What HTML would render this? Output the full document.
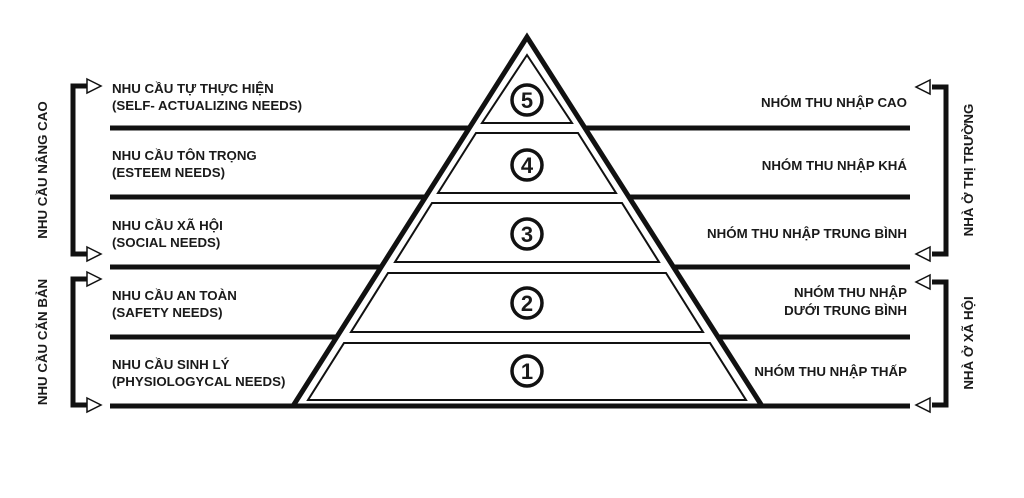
<!DOCTYPE html>
<html><head><meta charset="utf-8"><style>
html,body{margin:0;padding:0;background:#fff;width:1024px;height:498px;overflow:hidden}
svg text{font-family:"Liberation Sans",Arial,sans-serif;font-weight:bold;font-size:13.3px;fill:#1a1a1a}
</style></head><body>
<svg width="1024" height="498" viewBox="0 0 1024 498">
<rect width="1024" height="498" fill="#fff"/>
<g stroke="#111" stroke-width="5" fill="none">
<line x1="110" y1="128" x2="470" y2="128"/>
<line x1="110" y1="197" x2="426" y2="197"/>
<line x1="110" y1="267" x2="382" y2="267"/>
<line x1="110" y1="337" x2="337" y2="337"/>
<line x1="110" y1="406" x2="910" y2="406"/>
<line x1="584" y1="128" x2="910" y2="128"/>
<line x1="628" y1="197" x2="910" y2="197"/>
<line x1="672" y1="267" x2="910" y2="267"/>
<line x1="717" y1="337" x2="910" y2="337"/>
<polygon points="527,37 293,406 762,406" stroke-linejoin="miter"/>
</g>
<g stroke="#111" stroke-width="2" fill="none">
<polygon points="527,55 482,123 572,123"/>
<polygon points="476,133 578,133 616,193 438,193"/>
<polygon points="432,203 622,203 659,262 395,262"/>
<polygon points="388,273 666,273 703,332 351,332"/>
<polygon points="344,343 710,343 746,400 308,400"/>
</g>
<g stroke="#111" stroke-width="3.5" fill="#fff">
<circle cx="527" cy="100" r="15"/><circle cx="527" cy="165" r="15"/>
<circle cx="527" cy="234" r="15"/><circle cx="527" cy="303" r="15"/>
<circle cx="527" cy="371" r="15"/>
</g>
<g text-anchor="middle">
<text x="527" y="108" style="font-size:22px">5</text>
<text x="527" y="173" style="font-size:22px">4</text>
<text x="527" y="242" style="font-size:22px">3</text>
<text x="527" y="311" style="font-size:22px">2</text>
<text x="527" y="379" style="font-size:22px">1</text>
</g>
<g stroke="#111" stroke-width="5" fill="none">
<polyline points="88,86 73,86 73,254 88,254"/>
<polyline points="88,279 73,279 73,405 88,405"/>
<polyline points="932,87 946,87 946,254 932,254"/>
<polyline points="932,282 946,282 946,405 932,405"/>
</g>
<g stroke="#111" stroke-width="1.5" fill="#fff">
<polygon points="87,79 101,86 87,93"/>
<polygon points="87,247 101,254 87,261"/>
<polygon points="87,272 101,279 87,286"/>
<polygon points="87,398 101,405 87,412"/>
<polygon points="930,80 916,87 930,94"/>
<polygon points="930,247 916,254 930,261"/>
<polygon points="930,275 916,282 930,289"/>
<polygon points="930,398 916,405 930,412"/>
</g>
<text x="112" y="93">NHU CẦU TỰ THỰC HIỆN</text>
<text x="112" y="110">(SELF- ACTUALIZING NEEDS)</text>
<text x="112" y="160">NHU CẦU TÔN TRỌNG</text>
<text x="112" y="177">(ESTEEM NEEDS)</text>
<text x="112" y="230">NHU CẦU XÃ HỘI</text>
<text x="112" y="247">(SOCIAL NEEDS)</text>
<text x="112" y="300">NHU CẦU AN TOÀN</text>
<text x="112" y="317">(SAFETY NEEDS)</text>
<text x="112" y="369">NHU CẦU SINH LÝ</text>
<text x="112" y="386">(PHYSIOLOGYCAL NEEDS)</text>
<g text-anchor="end">
<text x="907" y="107">NHÓM THU NHẬP CAO</text>
<text x="907" y="170">NHÓM THU NHẬP KHÁ</text>
<text x="907" y="238">NHÓM THU NHẬP TRUNG BÌNH</text>
<text x="907" y="297">NHÓM THU NHẬP</text>
<text x="907" y="315">DƯỚI TRUNG BÌNH</text>
<text x="907" y="376">NHÓM THU NHẬP THẤP</text>
</g>
<g text-anchor="middle">
<text transform="translate(47,170) rotate(-90)">NHU CẦU NÂNG CAO</text>
<text transform="translate(47,342) rotate(-90)">NHU CẦU CĂN BẢN</text>
<text transform="translate(973,170) rotate(-90)">NHÀ Ở THỊ TRƯỜNG</text>
<text transform="translate(973,343) rotate(-90)">NHÀ Ở XÃ HỘI</text>
</g>
</svg>
</body></html>
